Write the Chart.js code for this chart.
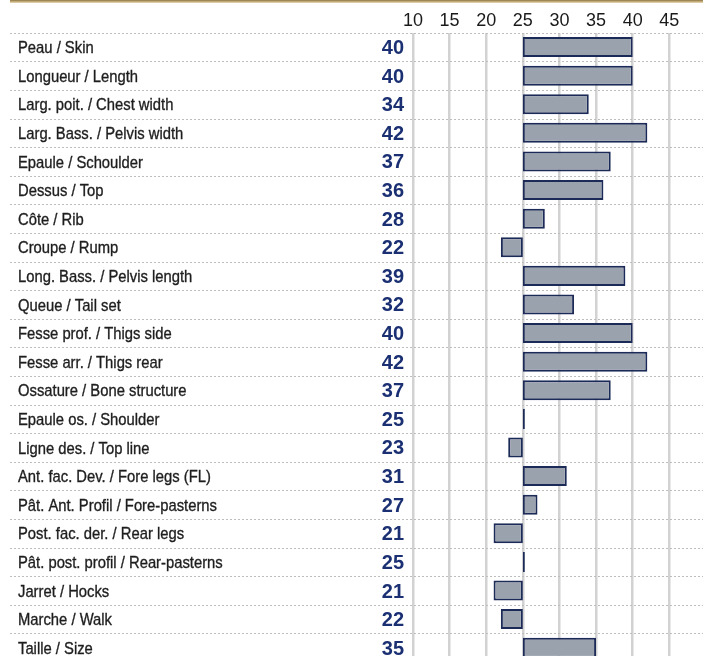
<!DOCTYPE html>
<html lang="fr">
<head>
<meta charset="utf-8">
<title>Pointage morphologique</title>
<script src="https://cdn.jsdelivr.net/npm/chart.js"></script>
<style>
  html, body { margin: 0; padding: 0; background: #fff; overflow: hidden; }
  #wrap { position: relative; width: 703px; height: 656px; overflow: hidden; }
  #topline { position: absolute; left: 10px; top: 0; width: 693px; height: 3px;
             background: linear-gradient(#8a7443, #cdb684 60%, #e6d9b8); }
  canvas { position: absolute; left: 0; top: 0; }
</style>
</head>
<body>
<div id="wrap">
  <canvas id="chart" width="703" height="662"></canvas>
  <div id="topline"></div>
</div>

<script>
// categories (FR / EN)
const traits = [
  'Peau / Skin', 'Longueur / Length', 'Larg. poit. / Chest width', 'Larg. Bass. / Pelvis width',
  'Epaule / Schoulder', 'Dessus / Top', 'Côte / Rib', 'Croupe / Rump',
  'Long. Bass. / Pelvis length', 'Queue / Tail set', 'Fesse prof. / Thigs side',
  'Fesse arr. / Thigs rear', 'Ossature / Bone structure', 'Epaule os. / Shoulder',
  'Ligne des. / Top line', 'Ant. fac. Dev. / Fore legs (FL)', 'Pât. Ant. Profil / Fore-pasterns',
  'Post. fac. der. / Rear legs', 'Pât. post. profil / Rear-pasterns', 'Jarret / Hocks',
  'Marche / Walk', 'Taille / Size'
];

// scores
const scores = [40, 40, 34, 42, 37, 36, 28, 22, 39, 32, 40, 42, 37, 25, 23, 31, 27, 21, 25, 21, 22, 35];

// bars start from the average
const baseline = 25;
const tickValues = [10, 15, 20, 25, 30, 35, 40, 45];

const rowGuides = {
  id: 'rowGuides',
  beforeDatasetsDraw(chart) {
    const ctx = chart.ctx;
    const y = chart.scales.y;
    const n = traits.length;
    const lines = [];
    for (let i = 0; i <= n; i++) {
      let p;
      if (i === 0) p = y.getPixelForValue(0) - (y.getPixelForValue(1) - y.getPixelForValue(0)) / 2;
      else if (i === n) p = y.getPixelForValue(n - 1) + (y.getPixelForValue(n - 1) - y.getPixelForValue(n - 2)) / 2;
      else p = (y.getPixelForValue(i - 1) + y.getPixelForValue(i)) / 2;
      lines.push(p);
    }
    ctx.save();
    ctx.strokeStyle = '#bdbdbd';
    ctx.lineWidth = 1;
    ctx.setLineDash([2, 2]);
    lines.forEach(p => {
      ctx.beginPath();
      ctx.moveTo(10, Math.round(p) + 0.5);
      ctx.lineTo(chart.width, Math.round(p) + 0.5);
      ctx.stroke();
    });
    ctx.restore();

    // category names, condensed
    ctx.save();
    ctx.font = '17px "Liberation Sans", Arial, sans-serif';
    ctx.fillStyle = '#1e1e1e';
    ctx.strokeStyle = '#1e1e1e';
    ctx.lineWidth = 0.35;
    ctx.textAlign = 'left';
    ctx.textBaseline = 'middle';
    traits.forEach((t, i) => {
      ctx.save();
      ctx.translate(18, y.getPixelForValue(i) + 1.5);
      ctx.scale(0.87, 1);
      ctx.fillText(t, 0, 0);
      ctx.strokeText(t, 0, 0);
      ctx.restore();
    });
    ctx.restore();
  },
  afterDatasetsDraw(chart) {
    // score column
    const ctx = chart.ctx;
    const y = chart.scales.y;
    ctx.save();
    ctx.font = 'bold 20px "Liberation Sans", Arial, sans-serif';
    ctx.fillStyle = '#1b3073';
    ctx.textAlign = 'right';
    ctx.textBaseline = 'middle';
    scores.forEach((s, i) => {
      ctx.fillText(String(s), 404, y.getPixelForValue(i) + 1.5);
    });
    ctx.restore();
  }
};

new Chart(document.getElementById('chart'), {
  type: 'bar',
  data: {
    labels: traits,
    datasets: [{
      data: scores.map(s => [baseline, s]),
      backgroundColor: '#9aa2ad',
      borderColor: '#1c2a58',
      borderWidth: 2,
      borderSkipped: false,
      minBarLength: 2,
      barPercentage: 0.7,
      categoryPercentage: 1.0
    }]
  },
  options: {
    indexAxis: 'y',
    responsive: false,
    animation: false,
    layout: { padding: { left: 18, right: 0, top: 0, bottom: 0 } },
    plugins: { legend: { display: false }, tooltip: { enabled: false } },
    scales: {
      x: {
        position: 'top',
        min: 10,
        max: 49.6,
        afterBuildTicks(scale) { scale.ticks = tickValues.map(v => ({ value: v })); },
        ticks: {
          padding: 1,
          color: '#1a1a1a',
          font: { family: '"Liberation Sans", Arial, sans-serif', size: 18 }
        },
        grid: { color: '#d2d2d2', lineWidth: 2.5, drawTicks: false },
        border: { display: false },
        afterFit(scale) { scale.height = 32.75; }
      },
      y: {
        position: 'left',
        ticks: { display: false },
        grid: { display: false },
        border: { display: false },
        afterFit(scale) { scale.width = 395; }
      }
    }
  },
  plugins: [rowGuides]
});
</script>
</body>
</html>
